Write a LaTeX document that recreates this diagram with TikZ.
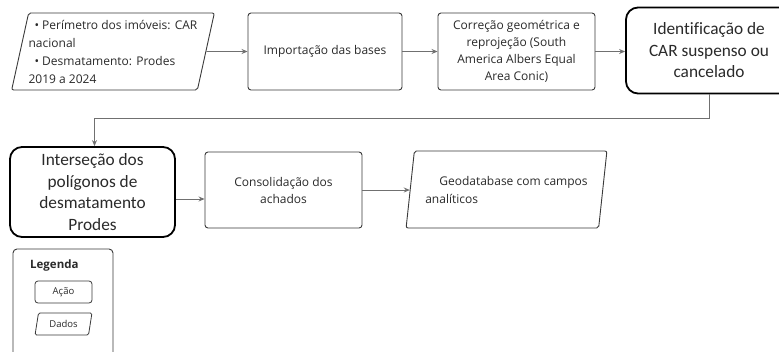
\documentclass[tikz,border=0pt]{standalone}
\usepackage{fontspec}
\setmainfont{Open Sans}
\newfontfamily\bigfont[Ligatures=NoCommon]{Carlito}
\usetikzlibrary{shapes.geometric,arrows.meta,calc}
\definecolor{boxcol}{HTML}{3A3A3A}
\definecolor{arrcol}{HTML}{707070}
\definecolor{txtcol}{HTML}{2A2A2A}
\begin{document}
\begin{tikzpicture}[x=1pt,y=-1pt,
  box/.style={draw=boxcol, line width=0.9pt, rounded corners=3pt, inner sep=0pt,
    text=txtcol, font=\fontsize{12}{17}\selectfont, align=center},
  bigbox/.style={draw=black, line width=1.8pt, rounded corners=12pt, inner sep=0pt,
    text=txtcol, font=\bigfont\fontsize{17.3}{21.5}\selectfont, align=center},
  data/.style={trapezium, trapezium left angle=75, trapezium right angle=105,
    trapezium stretches=true, draw=boxcol, line width=0.9pt, rounded corners=2pt,
    inner sep=0pt, text=txtcol, font=\fontsize{12}{18}\selectfont, align=left},
  arr/.style={draw=arrcol, line width=0.9pt, -{Stealth[length=6pt,width=5pt]}},
  small/.style={font=\fontsize{9.5}{11}\selectfont, inner sep=0pt, text=txtcol}
]
\path[use as bounding box, clip] (0,0) rectangle (779,351);
\fill[white] (0,0) rectangle (779,351);

\node[data, minimum width=200pt, minimum height=77pt] (n1) at (113,51.5)
  {\hspace{6pt}• Perímetro dos imóveis: CAR\\nacional\\\hspace{6pt}• Desmatamento: Prodes\\2019 a 2024};
\node[box, minimum width=154pt, minimum height=77pt] (n2) at (325,51.5) {Importação das bases};
\node[box, minimum width=157pt, minimum height=77pt] (n3) at (516.5,51.5)
  {Correção geométrica e\\reprojeção (South\\America Albers Equal\\Area Conic)};
\node[bigbox, minimum width=166pt, minimum height=86pt] (n4) at (709,50.5)
  {Identificação de\\CAR suspenso ou\\cancelado};
\node[bigbox, minimum width=165pt, minimum height=90pt] (n5) at (92.5,192)
  {Interseção dos\\polígonos de\\desmatamento\\Prodes};
\node[box, minimum width=157pt, minimum height=76pt] (n6) at (283.5,190)
  {Consolidação dos\\achados};
\node[data, minimum width=201pt, minimum height=77pt] (n7) at (506.5,189.5)
  {\hspace{14pt}Geodatabase com campos\\analíticos};

\draw[arr] (n1) -- (n2);
\draw[arr] (n2) -- (n3);
\draw[arr] (n3.east) -- (n3.east -| n4.west);
\draw[arr] (n4.south) -- ++(0,24.5) -| ([xshift=2pt]n5.north);
\draw[arr] ([yshift=-7pt]n5.east) -- ([yshift=-7pt]n5.east -| n6.west);
\draw[arr] (n6.east) -- (n6.east -| n7.west);

% legend
\node[draw=boxcol, line width=0.9pt, rounded corners=4pt, minimum width=100pt,
  minimum height=120pt, inner sep=0pt] (leg) at (63,309) {};
\node[font=\bfseries\fontsize{11.5}{13}\selectfont, text=txtcol, anchor=west, inner sep=0pt] (legt) at (30,266) {Legenda};
\node[draw=boxcol, line width=0.8pt, rounded corners=3pt, minimum width=57pt,
  minimum height=22pt, small] (la) at (63.5,292) {Ação};
\node[trapezium, trapezium left angle=75, trapezium right angle=105,
  trapezium stretches=true, draw=boxcol, line width=0.8pt, rounded corners=1.5pt,
  minimum width=57pt, minimum height=22pt, small] (ld) at (63.5,324) {Dados};
\end{tikzpicture}
\end{document}
